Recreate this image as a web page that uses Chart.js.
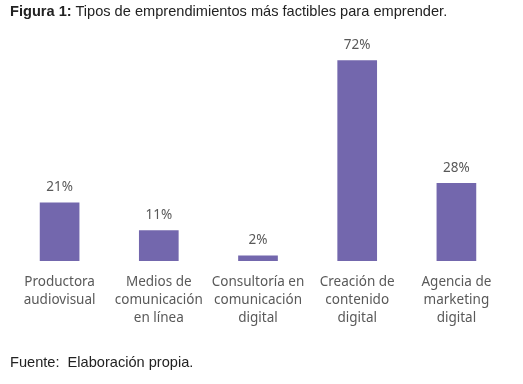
<!DOCTYPE html>
<html>
<head>
<meta charset="utf-8">
<script src="https://cdn.jsdelivr.net/npm/chart.js@4"></script>
<style>
  html, body { margin: 0; padding: 0; background: #ffffff; }
  body { width: 523px; height: 384px; position: relative; overflow: hidden; }
  #chartBox { position: absolute; left: 0; top: 0; width: 523px; height: 384px; }
  .caption { position: absolute; left: 10px; font-family: "Liberation Sans", Arial, sans-serif; font-size: 14.6px; color: #222222; white-space: nowrap; }
  #title { top: 3px; }
  #source { top: 354px; }
</style>
</head>
<body>
<div id="chartBox"><canvas id="typesChart"></canvas></div>
<div id="title" class="caption"><b>Figura 1:</b> Tipos de emprendimientos más factibles para emprender.</div>
<div id="source" class="caption">Fuente:&nbsp; Elaboración propia.</div>

<script>
// Chart data
const categories = [
    ['Productora', 'audiovisual'],
    ['Medios de', 'comunicación', 'en línea'],
    ['Consultoría en', 'comunicación', 'digital'],
    ['Creación de', 'contenido', 'digital'],
    ['Agencia de', 'marketing', 'digital']
];
const percentages = [21, 11, 2, 72, 28];

const barColor = '#7367ad';
const textColor = '#595959';
const labelFont = '"Noto Sans", sans-serif';

// Draw the "NN%" value above each bar
const valueLabels = {
    id: 'valueLabels',
    afterDatasetsDraw(chart) {
        const ctx = chart.ctx;
        const meta = chart.getDatasetMeta(0);
        ctx.save();
        ctx.fillStyle = textColor;
        ctx.font = '13.5px ' + labelFont;
        ctx.textAlign = 'center';
        ctx.textBaseline = 'middle';
        meta.data.forEach((bar, i) => {
            ctx.fillText(percentages[i] + '%', bar.x, bar.y - 15);
        });
        ctx.restore();
    }
};

const ctx = document.getElementById('typesChart');
new Chart(ctx, {
    type: 'bar',
    data: {
        labels: categories,
        datasets: [{
            data: percentages,
            backgroundColor: barColor,
            borderWidth: 0,
            categoryPercentage: 1,
            barPercentage: 0.4
        }]
    },
    options: {
        responsive: true,
        maintainAspectRatio: false,
        animation: false,
        layout: {
            padding: { top: 38, left: 10, right: 17, bottom: 0 }
        },
        plugins: {
            legend: { display: false },
            tooltip: { enabled: false }
        },
        scales: {
            x: {
                grid: { display: false, drawTicks: false },
                border: { display: false },
                ticks: {
                    color: textColor,
                    font: { family: labelFont, size: 13.5, lineHeight: 1.33 },
                    padding: 12,
                    maxRotation: 0,
                    autoSkip: false
                },
                afterFit(scale) {
                    scale.height = 123;
                }
            },
            y: {
                display: false,
                min: 0,
                max: 80
            }
        }
    },
    plugins: [valueLabels]
});
</script>
</body>
</html>
